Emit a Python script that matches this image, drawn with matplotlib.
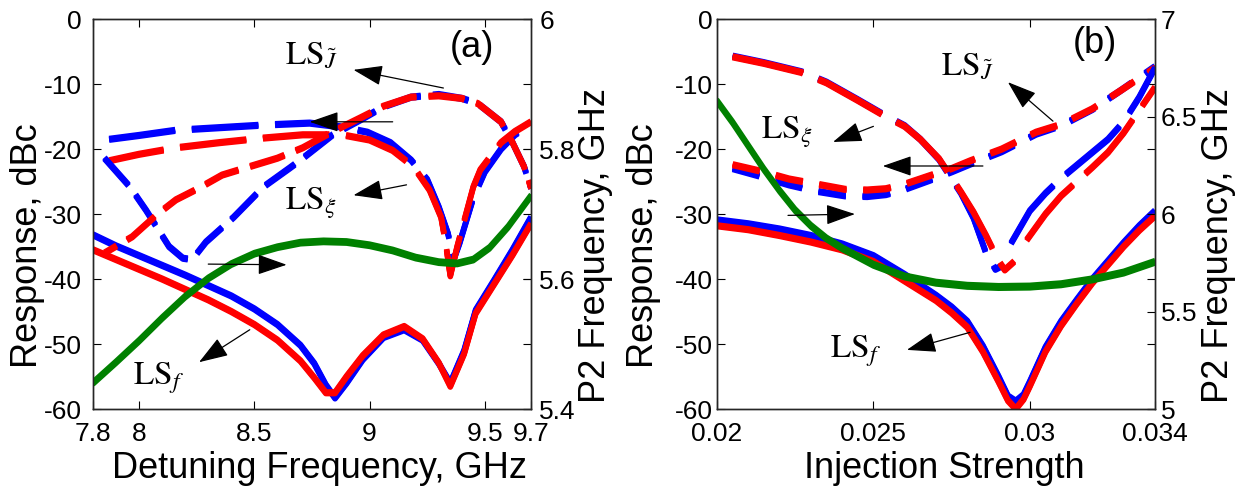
import matplotlib.pyplot as plt
from matplotlib import patheffects as pe

plt.rcParams['font.family'] = ['Liberation Sans', 'DejaVu Sans']
plt.rcParams['mathtext.fontset'] = 'stix'
plt.rcParams['axes.unicode_minus'] = False

# ---------------- (a) response vs detuning frequency ----------------
det_sol = [7.80, 7.90, 8.00, 8.10, 8.20, 8.30, 8.40, 8.50, 8.60, 8.70, 8.76, 8.81, 8.85,
           8.90, 8.97, 9.06, 9.15, 9.23, 9.30, 9.35, 9.41, 9.46, 9.54, 9.62, 9.70]
lsf_blue_a = [-33.2, -34.9, -36.4, -37.9, -39.4, -41.0, -42.6, -44.6, -47.0, -50.2, -53.0, -56.3, -58.3,
              -56.0, -52.4, -49.0, -47.8, -49.4, -53.0, -56.0, -51.0, -44.8, -40.2, -35.5, -30.5]
lsf_red_a = [-35.5, -37.0, -38.5, -40.0, -41.6, -43.2, -45.0, -47.0, -49.4, -52.6, -55.2, -57.5, -57.5,
             -55.0, -51.8, -48.6, -47.3, -49.2, -52.9, -56.5, -51.5, -45.3, -40.8, -36.3, -31.5]

xi_x_blue_a = [7.87, 8.00, 8.16, 8.35, 8.54, 8.74, 8.88, 8.99, 9.09, 9.18, 9.25, 9.30, 9.34,
               9.365, 9.39, 9.45, 9.50, 9.57, 9.63, 9.70]
xi_blue_a = [-18.5, -17.9, -17.1, -16.7, -16.3, -16.0, -16.6, -17.4, -19.0, -21.7, -24.7, -28.9, -33.0,
             -37.0, -34.5, -27.5, -23.5, -20.0, -17.8, -16.2]
xi_x_red_a = [7.87, 8.00, 8.16, 8.35, 8.54, 8.71, 8.88, 9.00, 9.10, 9.19, 9.26, 9.31, 9.33,
              9.35, 9.38, 9.45, 9.48, 9.57, 9.63, 9.70]
xi_red_a = [-21.8, -20.8, -19.8, -19.0, -18.3, -17.8, -17.8, -18.6, -20.2, -22.7, -26.3, -30.5, -34.5,
            -39.5, -35.0, -25.8, -23.2, -19.0, -17.3, -15.8]

j_x_blue_a = [7.85, 7.96, 8.03, 8.13, 8.19, 8.23, 8.29, 8.41, 8.54, 8.65, 8.70, 8.84, 8.96,
              9.06, 9.18, 9.30, 9.40, 9.47, 9.57, 9.62, 9.67, 9.70]
j_blue_a = [-21.4, -25.8, -29.4, -35.0, -36.8, -37.0, -34.3, -30.5, -25.8, -23.0, -21.7, -17.8, -15.5,
            -13.5, -12.0, -11.6, -12.2, -13.0, -15.8, -19.0, -22.7, -26.0]
j_x_red_a = [7.85, 7.97, 8.08, 8.16, 8.26, 8.36, 8.47, 8.60, 8.71, 8.84, 8.96, 9.06, 9.18,
             9.30, 9.40, 9.47, 9.57, 9.62, 9.67, 9.70]
j_red_a = [-36.0, -33.5, -30.0, -27.8, -26.0, -24.0, -22.8, -21.4, -19.8, -17.3, -15.2, -13.4, -12.0,
           -11.8, -12.2, -13.0, -15.8, -19.0, -22.7, -26.0]

p2_x_a = [7.80, 7.90, 8.00, 8.10, 8.20, 8.30, 8.40, 8.50, 8.60, 8.70, 8.80, 8.90, 9.00,
          9.10, 9.20, 9.30, 9.38, 9.45, 9.52, 9.60, 9.70]
p2_a = [5.440, 5.472, 5.505, 5.540, 5.573, 5.601, 5.623, 5.639, 5.649, 5.656, 5.658, 5.657, 5.652,
        5.644, 5.633, 5.626, 5.624, 5.630, 5.648, 5.680, 5.728]

# ---------------- (b) response vs injection strength ----------------
inj_sol = [0.0200, 0.0210, 0.0220, 0.0230, 0.0240, 0.0250, 0.0260, 0.0270, 0.0275, 0.0280, 0.0285,
           0.0290, 0.0293, 0.02955, 0.0298, 0.0300, 0.0305, 0.0310, 0.0315, 0.0320, 0.0325,
           0.0330, 0.0335, 0.0340]
lsf_blue_b = [-30.9, -31.5, -32.3, -33.3, -34.6, -36.4, -39.3, -42.5, -44.3, -46.5, -50.3,
              -55.0, -58.0, -58.8, -57.8, -55.8, -50.5, -46.5, -43.2, -40.0, -37.2,
              -34.4, -31.8, -29.5]
lsf_red_b = [-31.8, -32.4, -33.3, -34.3, -35.5, -37.3, -40.3, -43.3, -45.2, -47.4, -51.2,
             -55.8, -58.7, -60.0, -58.5, -56.5, -51.2, -47.2, -43.8, -40.6, -37.8,
             -35.0, -32.5, -30.3]

xi_x_b = [0.0205, 0.0214, 0.0223, 0.0232, 0.0241, 0.0248, 0.0254, 0.0260, 0.0268, 0.0275,
          0.0281, 0.0291, 0.0302, 0.0310, 0.0320, 0.0329, 0.0340]
xi_blue_b = [-23.0, -24.2, -25.5, -26.5, -27.2, -27.3, -27.0, -26.2, -24.8, -23.5,
             -22.3, -20.4, -17.7, -16.4, -13.9, -11.0, -7.3]
xi_red_b = [-22.4, -23.4, -24.6, -25.4, -26.2, -26.3, -26.1, -25.4, -24.1, -23.0,
            -21.8, -20.0, -17.4, -16.2, -13.8, -11.0, -7.5]

# upper curve breaks (nan) between the dip and the rising branch
j_x_blue_b = [0.0205, 0.0215, 0.0227, 0.0235, 0.0245, 0.0254, 0.0260, 0.0265, 0.0271, 0.0278,
              0.0282, 0.0286, 0.0289, 0.0291, float('nan'),
              0.0294, 0.0300, 0.0305, 0.0310, 0.0315, 0.0320, 0.0325, 0.0330, 0.0335, 0.0340]
j_blue_b = [-5.7, -6.7, -8.1, -9.7, -12.4, -14.9, -16.4, -18.5, -21.6, -26.8,
            -30.6, -36.0, -38.5, -38.0, float('nan'),
            -34.5, -29.5, -26.8, -24.5, -22.5, -20.5, -18.5, -15.8, -12.0, -7.5]
j_x_red_b = [0.0205, 0.0215, 0.0227, 0.0235, 0.0245, 0.0254, 0.0260, 0.0265, 0.0271, 0.0278,
             0.0282, 0.0286, 0.0290, 0.0292, 0.0295, float('nan'),
             0.0299, 0.0305, 0.0310, 0.0315, 0.0320, 0.0325, 0.0330, 0.0335, 0.0340]
j_red_b = [-5.8, -6.8, -8.2, -9.8, -12.5, -15.0, -16.5, -18.5, -21.5, -26.6,
           -29.7, -33.3, -37.2, -38.6, -37.3, float('nan'),
           -34.0, -30.0, -27.2, -25.0, -22.8, -20.5, -17.5, -14.0, -10.5]

p2_x_b = [0.0200, 0.0205, 0.0210, 0.0215, 0.0220, 0.0225, 0.0230, 0.0235, 0.0240, 0.0250,
          0.0260, 0.0270, 0.0280, 0.0290, 0.0300, 0.0310, 0.0320, 0.0330, 0.0340]
p2_b = [6.58, 6.47, 6.35, 6.23, 6.12, 6.02, 5.94, 5.875, 5.825, 5.74,
        5.68, 5.648, 5.632, 5.626, 5.628, 5.64, 5.665, 5.70, 5.755]

BLUE, RED, GREEN = '#0000ff', '#ff0000', '#008000'
AXIS_GRAY = '#262626'


def trace(ax, x, y, color, lw=4.0, style='-', spread=0.6):
    # thicker in the vertical direction than across steep parts
    ax.plot(x, y, color=color, lw=lw, ls=style, solid_capstyle='butt',
            dash_capstyle='butt',
            path_effects=[pe.Stroke(offset=(0, spread)),
                          pe.Stroke(offset=(0, -spread)), pe.Normal()])


def pointer(ax, ref, tail, tip):
    ax.annotate('', xy=tip, xytext=tail, xycoords=ref.transData,
                textcoords=ref.transData,
                arrowprops=dict(arrowstyle='-|>,head_length=1.3,head_width=0.45',
                                color='black', lw=0.9, mutation_scale=14,
                                shrinkA=0, shrinkB=0))


def tag(ax, ref, x, y, txt):
    ax.text(x, y, txt, transform=ref.transData, fontsize=24,
            ha='left', va='baseline', color='black')


def style_axes(ax1, ax2, left_pad, right_pad):
    ax1.tick_params(direction='in', length=6, width=0.8, top=True, right=True,
                    labelsize=19, colors='black')
    ax1.tick_params(axis='x', pad=9)
    ax1.tick_params(axis='y', pad=left_pad)
    ax2.tick_params(direction='in', length=6, width=0.8, labelsize=19, pad=right_pad)
    for ax in (ax1, ax2):
        for sp in ax.spines.values():
            sp.set_color(AXIS_GRAY)
            sp.set_linewidth(1.0)


fig = plt.figure(figsize=(12.55, 4.96), dpi=100)

# ---- panel (a) ----
axa = fig.add_axes([0.0741, 0.1754, 0.349, 0.786])
axa2 = axa.twinx()

trace(axa, det_sol, lsf_blue_a, BLUE)
trace(axa, det_sol, lsf_red_a, RED)
trace(axa, xi_x_blue_a, xi_blue_a, BLUE, style=(0, (12, 3)))
trace(axa, xi_x_red_a, xi_red_a, RED, style=(2, (12, 3)))
trace(axa, j_x_blue_a, j_blue_a, BLUE, style=(0, (6.5, 2.2)))
trace(axa, j_x_red_a, j_red_a, RED, style=(4, (6.5, 2.2)))
trace(axa2, p2_x_a, p2_a, GREEN, lw=3.2, spread=1.2)

axa.set_xlim(7.8, 9.7)
axa.set_ylim(-60, 0)
axa.set_xticks([7.8, 8, 8.5, 9, 9.5, 9.7])
axa.set_xticklabels(['7.8', '8', '8.5', '9', '9.5', '9.7'])
axa.set_yticks(range(-60, 1, 10))
axa.set_yticklabels([str(v) for v in range(-60, 1, 10)])
axa2.set_ylim(5.4, 6.0)
axa2.set_yticks([5.4, 5.6, 5.8, 6.0])
axa2.set_yticklabels(['5.4', '5.6', '5.8', '6'])
style_axes(axa, axa2, 8, 6)

axa.set_xlabel('Detuning Frequency, GHz', fontsize=26)
axa.xaxis.set_label_coords(0.518, -0.153)
axa.xaxis.label.set_va('center')
axa.set_ylabel('Response, dBc', fontsize=26)
axa.yaxis.set_label_coords(-0.150, 0.42)
axa.yaxis.label.set_va('center')
axa2.set_ylabel('P2 Frequency, GHz', fontsize=26)
axa2.yaxis.set_label_coords(1.148, 0.42)
axa2.yaxis.label.set_va('center')

axa2.text(9.444, -4.3, '(a)', transform=axa.transData, fontsize=26,
          ha='center', va='center')
tag(axa2, axa, 8.632, -6.9, r'$\mathrm{LS}_{\tilde{J}}$')
tag(axa2, axa, 8.632, -29.4, r'$\mathrm{LS}_{\xi}$')
tag(axa2, axa, 7.972, -56.3, r'$\mathrm{LS}_{f}$')
pointer(axa2, axa, (9.32, -10.6), (8.93, -7.8))
pointer(axa2, axa, (9.10, -15.8), (8.74, -15.8))
pointer(axa2, axa, (9.16, -25.5), (8.93, -27.1))
pointer(axa2, axa, (8.30, -37.7), (8.64, -37.8))
pointer(axa2, axa, (8.48, -47.8), (8.26, -52.8))

# ---- panel (b) ----
axb = fig.add_axes([0.5713, 0.1754, 0.349, 0.786])
axb2 = axb.twinx()

trace(axb, inj_sol, lsf_blue_b, BLUE)
trace(axb, inj_sol, lsf_red_b, RED)
trace(axb, xi_x_b, xi_blue_b, BLUE, style=(0, (5, 3)))
trace(axb, xi_x_b, xi_red_b, RED, style=(0, (5, 3)))
trace(axb, j_x_blue_b, j_blue_b, BLUE, style=(0, (13, 3)))
trace(axb, j_x_red_b, j_red_b, RED, style=(0, (13, 3)))
trace(axb2, p2_x_b, p2_b, GREEN, lw=3.0, spread=1.4)

axb.set_xlim(0.02, 0.034)
axb.set_ylim(-60, 0)
axb.set_xticks([0.02, 0.025, 0.03, 0.034])
axb.set_xticklabels(['0.02', '0.025', '0.03', '0.034'])
axb.set_yticks(range(-60, 1, 10))
axb.set_yticklabels([str(v) for v in range(-60, 1, 10)])
axb2.set_ylim(5, 7)
axb2.set_yticks([5, 5.5, 6, 6.5, 7])
axb2.set_yticklabels(['5', '5.5', '6', '6.5', '7'])
style_axes(axb, axb2, 3, 4)

axb.set_xlabel('Injection Strength', fontsize=26)
axb.xaxis.set_label_coords(0.518, -0.153)
axb.xaxis.label.set_va('center')
axb.set_ylabel('Response, dBc', fontsize=26)
axb.yaxis.set_label_coords(-0.168, 0.42)
axb.yaxis.label.set_va('center')
axb2.set_ylabel('P2 Frequency, GHz', fontsize=26)
axb2.yaxis.set_label_coords(1.146, 0.42)
axb2.yaxis.label.set_va('center')

axb2.text(0.03208, -3.8, '(b)', transform=axb.transData, fontsize=26,
          ha='center', va='center')
tag(axb2, axb, 0.02715, -8.5, r'$\mathrm{LS}_{\tilde{J}}$')
tag(axb2, axb, 0.02140, -18.5, r'$\mathrm{LS}_{\xi}$')
tag(axb2, axb, 0.02360, -52.0, r'$\mathrm{LS}_{f}$')
pointer(axb2, axb, (0.03074, -15.7), (0.0293, -9.7))
pointer(axb2, axb, (0.0250, -16.5), (0.02371, -18.9))
pointer(axb2, axb, (0.0285, -22.6), (0.0253, -22.6))
pointer(axb2, axb, (0.02227, -30.2), (0.02441, -30.0))
pointer(axb2, axb, (0.02809, -48.2), (0.02607, -50.9))

fig.savefig('out.png', dpi=100)
